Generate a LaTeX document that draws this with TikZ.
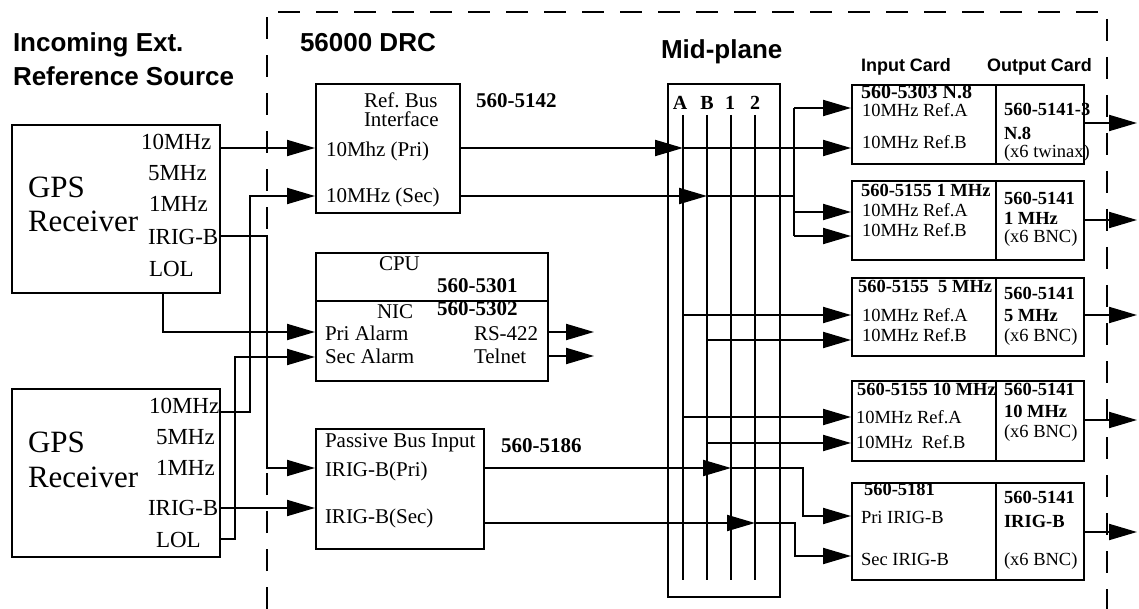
\documentclass[tikz,border=0pt]{standalone}
\usepackage{fontspec}
\setmainfont{Liberation Serif}
\setsansfont{Liberation Sans}
\usetikzlibrary{arrows.meta}
\newcommand\fz[1]{\fontsize{#1}{#1}\selectfont}
\frenchspacing
\begin{document}
\begin{tikzpicture}[x=1pt,y=-1pt, line width=2pt,
  box/.style={draw, rectangle, line width=2.2pt, inner sep=0pt, anchor=north west},
  txt/.style={inner sep=0pt, anchor=base west, font=\fz{21}},
  txb/.style={txt, font=\fz{21}\bfseries},
  gl/.style={inner sep=0pt, anchor=base west, font=\fz{23}},
  big/.style={inner sep=0pt, anchor=base west, font=\fz{31}},
  cd/.style={inner sep=0pt, anchor=base west, font=\fz{18.5}},
  cdb/.style={inner sep=0pt, anchor=base west, font=\fz{18.5}\bfseries},
  hd/.style={inner sep=0pt, anchor=base west, font=\sffamily\bfseries\fz{26}},
  hds/.style={inner sep=0pt, anchor=base west, font=\sffamily\bfseries\fz{18}},
  mpl/.style={inner sep=0pt, anchor=base, font=\fz{20}\bfseries},
  arr/.style={-{Triangle[length=28pt,width=16pt]}},
  bnd/.style={line width=2pt, dash pattern=on 22pt off 16pt}
]
\useasboundingbox (0,0) rectangle (1139,609);

% boundary of the 56000 DRC
\draw[bnd] (267,609) -- (267,12) -- (1107,12) -- (1107,609);

% headings
\node[hd] (hInc) at (12,52) {Incoming Ext.};
\node[hd] (hRef) at (12,86) {Reference Source};
\node[hd] (hDrc) at (299,52) {56000 DRC};
\node[hd] (hMid) at (660,59) {Mid-plane};
\node[hds] (hIn) at (860,72) {Input Card};
\node[hds] (hOut) at (986,72) {Output Card};

% GPS receivers
\node[box, minimum width=208pt, minimum height=168pt] (gps1) at (11,124) {};
\node[big] (g1n) at (27,198) {GPS};
\node[big] (g1r) at (27,232) {Receiver};
\node[gl] (g1t1) at (140,149.5) {10MHz};
\node[gl] (g1t2) at (147,180.5) {5MHz};
\node[gl] (g1t3) at (148,211.5) {1MHz};
\node[gl] (g1t4) at (147,244.5) {IRIG-B};
\node[gl] (g1t5) at (148,276.5) {LOL};

\node[box, minimum width=208pt, minimum height=168pt] (gps2) at (11,388) {};
\node[big] (g2n) at (27,452) {GPS};
\node[big] (g2r) at (27,487) {Receiver};
\node[gl] (g2t1) at (148,413.5) {10MHz};
\node[gl] (g2t2) at (155,444.5) {5MHz};
\node[gl] (g2t3) at (155,475.5) {1MHz};
\node[gl] (g2t4) at (147,515.5) {IRIG-B};
\node[gl] (g2t5) at (155,547.5) {LOL};

% Ref bus interface
\node[box, minimum width=144pt, minimum height=129pt] (ref) at (315,83) {};
\node[txt] (refa) at (363,108) {Ref. Bus};
\node[txt] (refb) at (363,127) {Interface};
\node[txt] (refc) at (325,157) {10Mhz (Pri)};
\node[txt] (refd) at (325,203) {10MHz (Sec)};
\node[txb] (refn) at (475,108) {560-5142};

% CPU / NIC
\node[box, minimum width=232pt, minimum height=48pt] (cpu) at (315,252) {};
\node[box, minimum width=232pt, minimum height=80pt] (nic) at (315,300) {};
\node[txt] (cpua) at (378,271) {CPU};
\node[txb] (cpun) at (436,293) {560-5301};
\node[txt] (nica) at (376,318) {NIC};
\node[txb] (nicn) at (436,315) {560-5302};
\node[txt] (nicb) at (324,340) {Pri Alarm};
\node[txt] (nicc) at (324,363) {Sec Alarm};
\node[txt] (nicd) at (473,340) {RS-422};
\node[txt] (nice) at (473,363) {Telnet};

% Passive bus input
\node[box, minimum width=168pt, minimum height=120pt] (pbi) at (315,428) {};
\node[txt] (pbia) at (324,447) {Passive Bus Input};
\node[txt] (pbib) at (324,476) {IRIG-B(Pri)};
\node[txt] (pbic) at (324,523) {IRIG-B(Sec)};
\node[txb] (pbin) at (500,452) {560-5186};

% Mid-plane
\node[box, minimum width=112pt, minimum height=513pt] (mid) at (667,83) {};
\node[mpl] (mlA) at (680,110) {A};
\node[mpl] (mlB) at (707,110) {B};
\node[mpl] (ml1) at (730,110) {1};
\node[mpl] (ml2) at (755,110) {2};
\coordinate (bAt) at (683,115); \coordinate (bAb) at (683,580);
\coordinate (bBt) at (707,115); \coordinate (bBb) at (707,580);
\coordinate (b1t) at (731,115); \coordinate (b1b) at (731,580);
\coordinate (b2t) at (755,115); \coordinate (b2b) at (755,580);
\draw (bAt) -- (bAb);
\draw (bBt) -- (bBb);
\draw (b1t) -- (b1b);
\draw (b2t) -- (b2b);

% cards
\node[box, minimum width=144pt, minimum height=79pt] (c1i) at (851,84) {};
\node[box, minimum width=88pt, minimum height=79pt] (c1o) at (995,84) {};
\node[box, minimum width=144pt, minimum height=79pt] (c2i) at (851,180) {};
\node[box, minimum width=88pt, minimum height=79pt] (c2o) at (995,180) {};
\node[box, minimum width=144pt, minimum height=78pt] (c3i) at (851,277) {};
\node[box, minimum width=88pt, minimum height=78pt] (c3o) at (995,277) {};
\node[box, minimum width=144pt, minimum height=80pt] (c4i) at (851,380) {};
\node[box, minimum width=88pt, minimum height=80pt] (c4o) at (995,380) {};
\node[box, minimum width=144pt, minimum height=97pt] (c5i) at (851,482) {};
\node[box, minimum width=88pt, minimum height=97pt] (c5o) at (995,482) {};

\node[cdb, font=\fz{20}\bfseries] (c1n) at (860,99) {560-5303 N.8};
\node[cd] (c1a) at (861,117) {10MHz Ref.A};
\node[cd] (c1b) at (861,149) {10MHz Ref.B};
\node[cdb] (c1x) at (1003,116) {560-5141-3};
\node[cdb] (c1y) at (1003,140) {N.8};
\node[cd] (c1z) at (1003,158) {(x6 twinax)};

\node[cdb] (c2n) at (860,197) {560-5155 1 MHz};
\node[cd] (c2a) at (861,217) {10MHz Ref.A};
\node[cd] (c2b) at (861,237) {10MHz Ref.B};
\node[cdb] (c2x) at (1003,205) {560-5141};
\node[cdb] (c2y) at (1003,225) {1 MHz};
\node[cd] (c2z) at (1003,243) {(x6 BNC)};

\node[cdb] (c3n) at (857,293) {560-5155\ \ 5 MHz};
\node[cd] (c3a) at (861,321) {10MHz Ref.A};
\node[cd] (c3b) at (861,341) {10MHz Ref.B};
\node[cdb] (c3x) at (1003,299) {560-5141};
\node[cdb] (c3y) at (1003,321) {5 MHz};
\node[cd] (c3z) at (1003,341) {(x6 BNC)};

\node[cdb] (c4n) at (856,395) {560-5155 10 MHz};
\node[cd] (c4a) at (855,423) {10MHz Ref.A};
\node[cd] (c4b) at (855,448) {10MHz\ \ Ref.B};
\node[cdb] (c4x) at (1003,395) {560-5141};
\node[cdb] (c4y) at (1003,417) {10 MHz};
\node[cd] (c4z) at (1003,437) {(x6 BNC)};

\node[cdb] (c5n) at (863,495) {560-5181};
\node[cd] (c5a) at (860,523) {Pri IRIG-B};
\node[cd] (c5b) at (860,565) {Sec IRIG-B};
\node[cdb] (c5x) at (1003,503) {560-5141};
\node[cdb] (c5y) at (1003,527) {IRIG-B};
\node[cd] (c5z) at (1003,565) {(x6 BNC)};

% ports
\coordinate (g1a) at (219,148);
\coordinate (g1i) at (219,236);
\coordinate (g1l) at (163,292);
\coordinate (g2a) at (219,412);
\coordinate (g2i) at (219,508);
\coordinate (g2l) at (219,539);
\coordinate (refPin) at (315,148);
\coordinate (refSin) at (315,196);
\coordinate (refPout) at (459,148);
\coordinate (refSout) at (459,196);
\coordinate (cpuPin) at (315,332);
\coordinate (cpuSin) at (315,357);
\coordinate (cpuR) at (547,332);
\coordinate (cpuT) at (547,356);
\coordinate (cpuRe) at (594,332);
\coordinate (cpuTe) at (594,356);
\coordinate (pbiPin) at (315,468);
\coordinate (pbiSin) at (315,508);
\coordinate (pbiPout) at (483,468);
\coordinate (pbiSout) at (483,523);
\coordinate (mA1) at (683,148);
\coordinate (mB1) at (707,196);
\coordinate (m1) at (731,468);
\coordinate (m2) at (755,523);
\coordinate (mA3) at (683,315);
\coordinate (mB3) at (707,340);
\coordinate (mA4) at (683,417);
\coordinate (mB4) at (707,443);
\coordinate (brT) at (794,108);
\coordinate (brB) at (794,236);
\coordinate (ia1) at (851,108);
\coordinate (ib1) at (851,148);
\coordinate (ia2) at (851,212);
\coordinate (ib2) at (851,236);
\coordinate (ia3) at (851,315);
\coordinate (ib3) at (851,340);
\coordinate (ia4) at (851,417);
\coordinate (ib4) at (851,443);
\coordinate (ia5) at (851,516);
\coordinate (ib5) at (851,556);
\coordinate (k1) at (267,468);
\coordinate (k2) at (250,196);
\coordinate (k3) at (235,357);
\coordinate (k4) at (803,516);
\coordinate (k5) at (795,556);
\coordinate (o1) at (1083,123); \coordinate (o1e) at (1137,123);
\coordinate (o2) at (1083,220); \coordinate (o2e) at (1137,220);
\coordinate (o3) at (1083,315); \coordinate (o3e) at (1137,315);
\coordinate (o4) at (1083,420); \coordinate (o4e) at (1137,420);
\coordinate (o5) at (1083,532); \coordinate (o5e) at (1137,532);

% connectors from GPS receivers
\draw[arr] (g1a) -- (refPin);
\draw[arr] (g1i) -| (k1) -- (pbiPin);
\draw[arr] (g1l) |- (cpuPin);
\draw[arr] (g2a) -| (k2) -- (refSin);
\draw[arr] (g2l) -| (k3) -- (cpuSin);
\draw[arr] (g2i) -- (pbiSin);

% CPU outputs
\draw[arr] (cpuR) -- (cpuRe);
\draw[arr] (cpuT) -- (cpuTe);

% reference bus to mid-plane and cards
\draw[arr] (refPout) -- (mA1);
\draw (mA1) -- (mA1 -| brT);
\draw[arr] (refSout) -- (mB1);
\draw (mB1) -- (mB1 -| brT);
\draw (brT) -- (brB);
\draw[arr] (brT) -- (ia1);
\draw[arr] (mA1 -| brT) -- (ib1);
\draw[arr] (brT |- ia2) -- (ia2);
\draw[arr] (brB) -- (ib2);
\draw[arr] (mA3) -- (ia3);
\draw[arr] (mB3) -- (ib3);
\draw[arr] (mA4) -- (ia4);
\draw[arr] (mB4) -- (ib4);

% IRIG-B paths
\draw[arr] (pbiPout) -- (m1);
\draw[arr] (m1) -| (k4) -- (ia5);
\draw[arr] (pbiSout) -- (m2);
\draw[arr] (m2) -| (k5) -- (ib5);

% card outputs
\draw[arr] (o1) -- (o1e);
\draw[arr] (o2) -- (o2e);
\draw[arr] (o3) -- (o3e);
\draw[arr] (o4) -- (o4e);
\draw[arr] (o5) -- (o5e);
\end{tikzpicture}
\end{document}
